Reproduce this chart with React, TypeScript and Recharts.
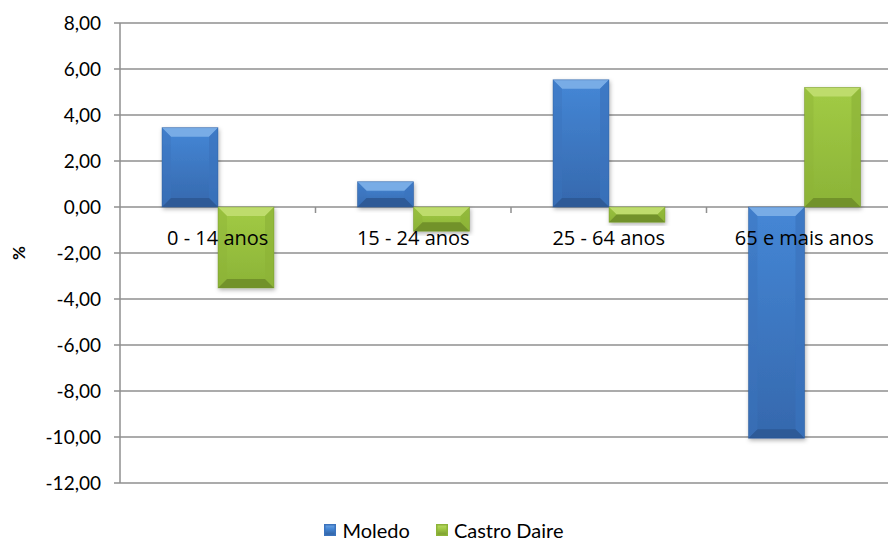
import { Bar, BarChart, CartesianGrid, XAxis, YAxis } from "recharts";

const categories = ["0 - 14 anos", "15 - 24 anos", "25 - 64 anos", "65 e mais anos"];
const moledo = [3.45, 1.1, 5.53, -10.05];
const castroDaire = [-3.52, -1.05, -0.66, 5.2];
const yTicks = [-12, -10, -8, -6, -4, -2, 0, 2, 4, 6, 8];

const data = categories.map((name, i) => ({
  name,
  moledo: moledo[i],
  castroDaire: castroDaire[i],
}));

const CHART_W = 910;
const CHART_H = 542;
const MARGIN = { top: 23, right: 8, bottom: 29, left: 0 };
const X_AXIS_H = 30;
const Y_AXIS_W = 120;
const PLOT_H = CHART_H - MARGIN.top - MARGIN.bottom - X_AXIS_H;
const PLOT_W = CHART_W - MARGIN.left - MARGIN.right - Y_AXIS_W;
const ZERO_Y = MARGIN.top + (PLOT_H * 8) / 20;
const BAND = PLOT_W / categories.length;

const GRID = "#8f8f8f";

const palettes = {
  blue: { id: "blue", top: "#78ace6", side: "#3b73bd", bottom: "#2d5a97", from: "#4587d6", to: "#3568ad" },
  green: { id: "green", top: "#bedc6c", side: "#8db438", bottom: "#72922b", from: "#a2cb45", to: "#8bb337" },
};

const fmt = (v: number) => v.toFixed(2).replace(".", ",");

function BevelBar(props: any, pal: typeof palettes.blue) {
  const { x, y, width, height } = props;
  const top = Math.min(y, y + height);
  const h = Math.abs(height);
  if (!h) return <g />;
  const b = Math.min(9, h / 2, width / 2);
  const r = x + width;
  const btm = top + h;
  return (
    <g filter="url(#shadow)">
      <rect x={x} y={top} width={width} height={h} fill={`url(#grad-${pal.id})`} />
      <polygon points={`${x},${top} ${r},${top} ${r - b},${top + b} ${x + b},${top + b}`} fill={pal.top} />
      <polygon points={`${x},${top} ${x + b},${top + b} ${x + b},${btm - b} ${x},${btm}`} fill={pal.side} opacity={0.45} />
      <polygon points={`${r},${top} ${r - b},${top + b} ${r - b},${btm - b} ${r},${btm}`} fill={pal.side} opacity={0.7} />
      <polygon points={`${x},${btm} ${x + b},${btm - b} ${r - b},${btm - b} ${r},${btm}`} fill={pal.bottom} />
      <rect x={x} y={top} width={width} height={h} fill="none" stroke={pal.bottom} strokeOpacity={0.5} strokeWidth={0.8} />
    </g>
  );
}

function CategoryTick(props: any) {
  const { x, payload, index } = props;
  return (
    <g>
      {index < categories.length - 1 && (
        <line x1={x + BAND / 2} x2={x + BAND / 2} y1={ZERO_Y} y2={ZERO_Y + 6} stroke={GRID} strokeWidth={1.5} />
      )}
      <text
        x={x}
        y={ZERO_Y + 30}
        textAnchor="middle"
        dominantBaseline="central"
        fontFamily="'Open Sans', sans-serif"
        fontSize={20}
        fill="#000"
      >
        {payload.value}
      </text>
    </g>
  );
}

function LegendSwatch({ pal }: { pal: typeof palettes.blue }) {
  return (
    <span
      style={{
        display: "inline-block",
        width: 12,
        height: 12,
        marginRight: 6,
        background: `linear-gradient(${pal.top}, ${pal.from} 40%, ${pal.bottom})`,
        boxShadow: `inset 0 0 0 1.5px ${pal.side}`,
      }}
    />
  );
}

export default function App() {
  return (
    <div
      style={{
        position: "fixed",
        left: 0,
        top: 0,
        width: 888,
        height: 542,
        overflow: "hidden",
        background: "#fff",
      }}
    >
      <BarChart width={CHART_W} height={CHART_H} data={data} margin={MARGIN} barSize={56} barGap={0}>
        <defs>
          {Object.values(palettes).map((p) => (
            <linearGradient key={p.id} id={`grad-${p.id}`} x1="0" y1="0" x2="0" y2="1">
              <stop offset="0%" stopColor={p.from} />
              <stop offset="100%" stopColor={p.to} />
            </linearGradient>
          ))}
          <filter id="shadow" x="-20%" y="-20%" width="140%" height="140%">
            <feDropShadow dx="1" dy="2" stdDeviation="2" floodColor="#000" floodOpacity="0.3" />
          </filter>
        </defs>
        <CartesianGrid vertical={false} stroke={GRID} strokeWidth={1.5} />
        <YAxis
          width={Y_AXIS_W}
          domain={[-12, 8]}
          ticks={yTicks}
          interval={0}
          tickFormatter={fmt}
          axisLine={{ stroke: GRID, strokeWidth: 1.5 }}
          tickLine={{ stroke: GRID, strokeWidth: 1.5 }}
          tickSize={6}
          tickMargin={13}
          tick={{ fontFamily: "Lato, sans-serif", fontSize: 19, fill: "#000" }}
          label={() => (
            <text
              x={18}
              y={MARGIN.top + PLOT_H / 2}
              transform={`rotate(-90 18 ${MARGIN.top + PLOT_H / 2})`}
              textAnchor="middle"
              dominantBaseline="central"
              fontFamily="Lato, sans-serif"
              fontWeight="bold"
              fontSize={17}
              fill="#000"
            >
              %
            </text>
          )}
        />
        <Bar dataKey="moledo" name="Moledo" isAnimationActive={false} shape={(p: any) => BevelBar(p, palettes.blue)} />
        <Bar
          dataKey="castroDaire"
          name="Castro Daire"
          isAnimationActive={false}
          shape={(p: any) => BevelBar(p, palettes.green)}
        />
        <XAxis
          dataKey="name"
          height={X_AXIS_H}
          axisLine={false}
          tickLine={false}
          interval={0}
          tick={CategoryTick}
        />
      </BarChart>
      <div
        style={{
          position: "absolute",
          top: 520,
          left: 0,
          width: 888,
          display: "flex",
          justifyContent: "center",
          alignItems: "center",
          fontFamily: "Lato, sans-serif",
          fontSize: 20,
          color: "#000",
          lineHeight: "20px",
        }}
      >
        <span style={{ display: "flex", alignItems: "center", marginRight: 26 }}>
          <LegendSwatch pal={palettes.blue} />
          Moledo
        </span>
        <span style={{ display: "flex", alignItems: "center" }}>
          <LegendSwatch pal={palettes.green} />
          Castro Daire
        </span>
      </div>
    </div>
  );
}
